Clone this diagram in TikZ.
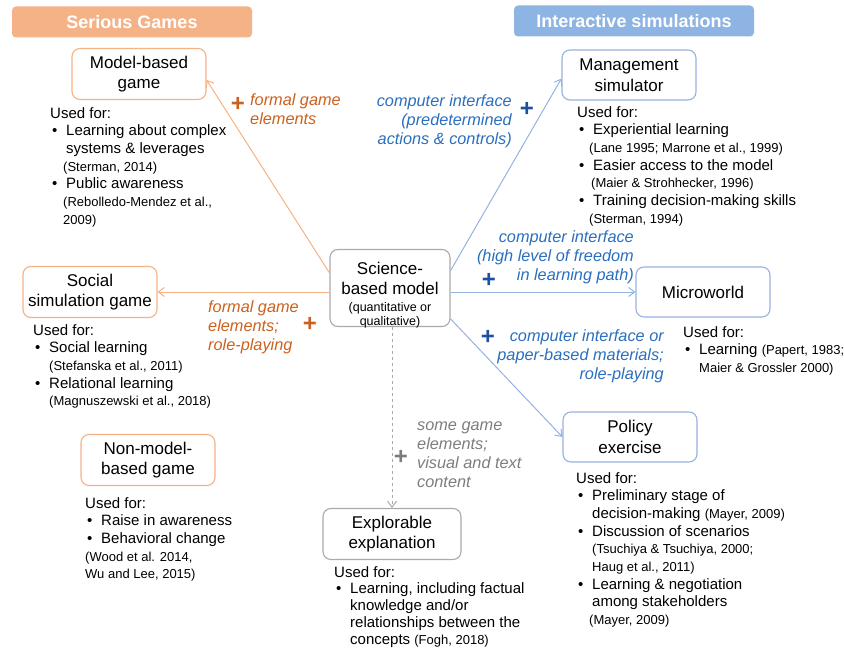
\documentclass[tikz,border=0pt]{standalone}
\usepackage{fontspec}
\setmainfont{Liberation Sans}
\usetikzlibrary{arrows.meta,positioning}
\definecolor{gameorange}{RGB}{245,178,134}
\definecolor{gametext}{RGB}{204,96,30}
\definecolor{simblue}{RGB}{142,180,227}
\definecolor{simline}{RGB}{150,178,224}
\definecolor{simtext}{RGB}{42,110,190}
\definecolor{plusblue}{RGB}{30,80,160}
\definecolor{modelgray}{RGB}{170,170,170}
\definecolor{hinttext}{RGB}{125,125,125}

\newcommand{\boxfont}{\fontsize{17}{20.5}\selectfont}
\newcommand{\smallfont}{\fontsize{12.5}{13}\selectfont}
\newcommand{\usedfont}{\fontsize{15}{17.7}\selectfont}
\newcommand{\labelfont}{\fontsize{16.3}{19}\selectfont\itshape}
\newcommand{\srcref}[1]{{\fontsize{13}{17.7}\selectfont #1}}
\newcommand{\bul}{\hspace*{2pt}\makebox[14pt][l]{\textbullet}}
\newcommand{\ind}{\hspace*{16pt}}

\tikzset{
  banner/.style={fill=#1, rounded corners=4pt, minimum width=240, minimum height=31,
    text=white, font=\fontsize{18}{20}\selectfont\bfseries},
  conceptbox/.style={draw=#1, line width=1.1pt, rounded corners=8pt, fill=white,
    align=center, font=\boxfont, inner sep=2pt},
  gamebox/.style={conceptbox=gameorange, minimum width=134, minimum height=51},
  simbox/.style={conceptbox=simline, minimum width=134, minimum height=50},
  usedfor/.style={anchor=north west, align=left, inner sep=0pt, font=\usedfont},
  edgelabel/.style={inner sep=0pt, font=\labelfont},
  plus/.style={inner sep=0pt, font=\fontsize{24}{24}\selectfont\bfseries},
  gamearrow/.style={->, draw=gameorange, line width=1pt},
  simarrow/.style={->, draw=simline, line width=1pt}
}

\begin{document}
\begin{tikzpicture}[x=1pt,y=-1pt,>={Straight Barb[length=6pt,width=9pt]}]
  \useasboundingbox (0,0) rectangle (844,650);

  % Banners
  \node[banner=gameorange] (sgbanner) at (132,22) {Serious Games};
  \node[banner=simblue] (isbanner) at (634,21) {Interactive simulations};

  % Central model
  \node[conceptbox=modelgray, minimum width=120, minimum height=77] (sbm) at (390,288) {};
  \node[align=center, font=\boxfont, inner sep=0pt] (sbmtext) at (390,295)
    {Science-\\based model\\[-4pt]\smallfont (quantitative or\\[-6pt]\smallfont qualitative)};

  % Serious games
  \node[gamebox] (mbg) at (139,74) {Model-based\\game};
  \node[gamebox] (ssg) at (90,292) {Social\\simulation game};
  \node[gamebox] (nmbg) at (148,460) {Non-model-\\based game};

  % Interactive simulations
  \node[simbox] (ms) at (629,75) {Management\\simulator};
  \node[simbox] (mw) at (703,292) {Microworld};
  \node[simbox] (pe) at (630,437) {Policy\\exercise};

  % Explorable explanation
  \node[conceptbox=modelgray, minimum width=138, minimum height=51] (ee) at (392,534)
    {Explorable\\explanation};

  % Connectors
  \draw[gamearrow] (sbm.166) -- (mbg.-5);
  \draw[gamearrow] (sbm.west |- ssg.east) -- (ssg.east);
  \draw[simarrow] (sbm.16) -- (ms.183);
  \draw[simarrow] (sbm.east |- mw.west) -- (mw.west);
  \draw[simarrow] (sbm.-27) -- (pe.west);
  \draw[->, draw=modelgray, line width=1pt, dashed] (ee.north |- sbm.south) -- (ee.north);

  % Edge labels
  \node[plus, text=gametext] (mbgplus) at (238,104) {+};
  \node[edgelabel, text=gametext, anchor=north west, align=left] (mbglabel) at (250,93)
    {formal game\\elements};
  \node[plus, text=gametext] (ssgplus) at (310,324) {+};
  \node[edgelabel, text=gametext, anchor=north west, align=left] (ssglabel) at (208,300)
    {formal game\\elements;\\role-playing};
  \node[plus, text=plusblue] (msplus) at (527,109) {+};
  \node[edgelabel, text=simtext, anchor=north east, align=right] (mslabel) at (512,94)
    {computer interface\\(predetermined\\actions \& controls)};
  \node[plus, text=plusblue] (mwplus) at (489,280) {+};
  \node[edgelabel, text=simtext, anchor=north east, align=right] (mwlabel) at (634,230)
    {computer interface\\(high level of freedom\\in learning path)};
  \node[plus, text=plusblue] (peplus) at (488,337) {+};
  \node[edgelabel, text=simtext, anchor=north east, align=right] (pelabel) at (664,329)
    {computer interface or\\paper-based materials;\\role-playing};
  \node[plus, text=hinttext] (eeplus) at (401,457) {+};
  \node[edgelabel, text=hinttext, anchor=north west, align=left] (eelabel) at (417,422)
    {some game\\elements;\\visual and text\\content};

  % Used for
  \node[usedfor] (mbgused) at (50,107) {Used for:\\
    \bul Learning about complex\\
    \ind systems \& leverages\\
    \hspace*{13pt}\srcref{(Sterman, 2014)}\\
    \bul Public awareness\\
    \hspace*{13pt}\srcref{(Rebolledo-Mendez et al.,}\\
    \hspace*{13pt}\srcref{2009)}};
  \node[usedfor] (msused) at (577,106) {Used for:\\
    \bul Experiential learning\\
    \hspace*{12pt}\srcref{(Lane 1995; Marrone et al., 1999)}\\
    \bul Easier access to the model\\
    \hspace*{14pt}\srcref{(Maier \& Strohhecker, 1996)}\\
    \bul Training decision-making skills\\
    \hspace*{12pt}\srcref{(Sterman, 1994)}};
  \node[usedfor] (ssgused) at (33,324) {Used for:\\
    \bul Social learning\\
    \ind\srcref{(Stefanska et al., 2011)}\\
    \bul Relational learning\\
    \ind\srcref{(Magnuszewski et al., 2018)}};
  \node[usedfor] (mwused) at (683,326) {Used for:\\
    \bul Learning \srcref{(Papert, 1983;}\\
    \ind\srcref{Maier \& Grossler 2000)}};
  \node[usedfor] (nmbgused) at (85,497) {Used for:\\
    \bul Raise in awareness\\
    \bul Behavioral change\\
    \srcref{(Wood et al. 2014,}\\
    \srcref{Wu and Lee, 2015)}};
  \node[usedfor, font=\fontsize{15}{16.8}\selectfont] (eeused) at (334,566) {Used for:\\
    \bul Learning, including factual\\
    \ind knowledge and/or\\
    \ind relationships between the\\
    \ind concepts {\fontsize{13}{16.8}\selectfont (Fogh, 2018)}};
  \node[usedfor] (peused) at (576,472) {Used for:\\
    \bul Preliminary stage of\\
    \ind decision-making \srcref{(Mayer, 2009)}\\
    \bul Discussion of scenarios\\
    \ind\srcref{(Tsuchiya \& Tsuchiya, 2000;}\\
    \ind\srcref{Haug et al., 2011)}\\
    \bul Learning \& negotiation\\
    \ind among stakeholders\\
    \hspace*{13pt}\srcref{(Mayer, 2009)}};
\end{tikzpicture}
\end{document}
